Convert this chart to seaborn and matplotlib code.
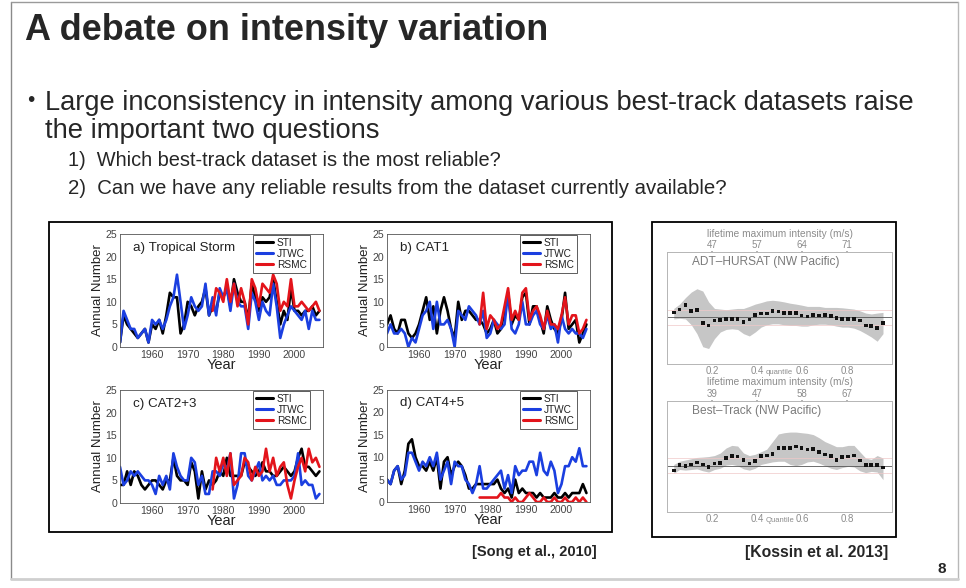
import numpy as np
import pandas as pd
import seaborn as sns
import matplotlib
matplotlib.use("Agg")
import matplotlib.pyplot as plt
from matplotlib.patches import Rectangle
from matplotlib.lines import Line2D

sns.set_theme(style="white")
plt.rcParams["font.family"] = ["Liberation Sans", "DejaVu Sans"]

# ---------------- data: Song et al. (2010) annual numbers ----------------
years = list(range(1951, 2008))
years_rsmc = list(range(1977, 2008))

ts_sti = [1, 7, 5, 4, 3, 2, 3, 4, 1, 5, 4, 6, 3, 7, 12, 11, 11, 3, 5, 10, 9, 7, 9, 10, 13, 7, 9, 8, 12, 11,
          13, 9, 15, 12, 10, 10, 6, 14, 11, 8, 11, 10, 11, 15, 10, 5, 8, 6, 13, 8, 8, 7, 8, 8, 9, 7, 8]
ts_jtwc = [1, 8, 6, 4, 4, 2, 3, 4, 1, 6, 5, 6, 4, 6, 9, 11, 16, 10, 4, 7, 11, 9, 8, 9, 14, 7, 11, 7, 13, 11,
           13, 8, 14, 10, 9, 9, 4, 12, 10, 6, 10, 8, 7, 14, 9, 2, 5, 7, 9, 8, 7, 6, 8, 4, 8, 6, 6]
ts_rsmc = [8, 13, 12, 10, 15, 10, 14, 9, 13, 10, 5, 15, 13, 9, 14, 13, 12, 16, 14, 8, 10, 9, 15, 9, 9, 10,
           9, 8, 9, 10, 8]

c1_sti = [5, 7, 4, 3, 6, 6, 3, 2, 3, 5, 8, 11, 6, 9, 3, 8, 11, 8, 4, 2, 10, 6, 8, 8, 7, 6, 6, 5, 3, 4,
          6, 3, 4, 8, 12, 5, 7, 6, 11, 12, 5, 9, 9, 6, 3, 9, 6, 4, 3, 6, 12, 4, 5, 6, 1, 3, 5]
c1_jtwc = [3, 5, 3, 3, 4, 3, 0, 2, 1, 4, 7, 8, 10, 4, 10, 5, 5, 6, 4, 0, 8, 7, 6, 9, 8, 7, 5, 8, 2, 3,
           6, 5, 4, 5, 12, 4, 3, 5, 10, 5, 5, 7, 8, 5, 4, 7, 4, 5, 1, 7, 4, 3, 4, 3, 3, 2, 4]
c1_rsmc = [5, 12, 4, 7, 6, 4, 5, 9, 13, 6, 8, 6, 12, 13, 6, 8, 9, 7, 4, 8, 5, 5, 4, 7, 11, 5, 7, 7, 3, 4, 6]

c23_sti = [4, 4, 7, 4, 7, 6, 4, 3, 4, 5, 5, 4, 3, 5, 5, 10, 6, 5, 5, 4, 9, 7, 1, 7, 3, 5, 4, 5, 7, 6,
           10, 6, 6, 6, 6, 9, 8, 7, 6, 7, 9, 7, 7, 6, 6, 7, 8, 7, 6, 7, 10, 12, 8, 8, 7, 6, 7]
c23_jtwc = [8, 4, 5, 7, 6, 7, 6, 5, 5, 4, 2, 6, 4, 6, 3, 11, 8, 6, 5, 5, 10, 9, 4, 6, 2, 2, 7, 7, 6, 9,
            7, 11, 1, 4, 11, 11, 6, 5, 7, 9, 5, 6, 5, 6, 4, 4, 5, 5, 5, 6, 11, 4, 5, 4, 4, 1, 2]
c23_rsmc = [3, 10, 7, 10, 6, 11, 4, 5, 6, 10, 9, 5, 8, 6, 7, 12, 7, 10, 6, 8, 9, 4, 1, 5, 8, 10, 7, 12, 9, 10, 8]

c45_sti = [5, 4, 7, 8, 4, 7, 13, 14, 10, 8, 8, 7, 9, 7, 10, 3, 9, 10, 6, 8, 9, 8, 6, 3, 3, 4, 4, 4, 4, 4,
           4, 5, 3, 2, 3, 1, 5, 2, 3, 2, 2, 2, 1, 2, 1, 1, 1, 2, 1, 1, 2, 1, 2, 2, 2, 4, 2]
c45_jtwc = [5, 4, 7, 8, 5, 6, 11, 11, 9, 7, 9, 8, 10, 8, 11, 5, 7, 9, 4, 9, 8, 8, 5, 4, 2, 4, 8, 3, 3, 4,
            5, 6, 7, 3, 6, 2, 8, 6, 7, 7, 9, 9, 6, 11, 7, 6, 9, 7, 2, 4, 8, 8, 10, 9, 12, 8, 8]
c45_rsmc = [1, 1, 1, 1, 1, 1, 2, 1, 1, 0, 1, 0, 0, 1, 2, 1, 0, 0, 1, 0, 0, 1, 0, 0, 1, 0, 0, 1, 0, 1, 0]

panel_titles = ["a) Tropical Storm", "b) CAT1", "c) CAT2+3", "d) CAT4+5"]
dataset_names = ["STI", "JTWC", "RSMC"]
dataset_colors = {"STI": "#000000", "JTWC": "#1b3fe0", "RSMC": "#e3141b"}
year_ticks = [1960, 1970, 1980, 1990, 2000]
count_ticks = [0, 5, 10, 15, 20, 25]

# ---------------- data: Kossin et al. (2013) quantile differences ----------------
quantiles = [0.030, 0.056, 0.082, 0.108, 0.133, 0.159, 0.185, 0.211, 0.237, 0.263, 0.288, 0.314, 0.340,
             0.366, 0.392, 0.418, 0.443, 0.469, 0.495, 0.521, 0.547, 0.573, 0.598, 0.624, 0.650, 0.676,
             0.702, 0.728, 0.753, 0.779, 0.805, 0.831, 0.857, 0.883, 0.908, 0.934, 0.960]
adt_mid = [0.38, 0.60, 0.95, 0.50, 0.56, -0.46, -0.64, -0.26, -0.20, -0.13, -0.13, -0.13, -0.38, -0.18,
           0.18, 0.30, 0.30, 0.50, 0.44, 0.33, 0.33, 0.36, 0.13, 0.05, 0.20, 0.15, 0.18, 0.08, -0.08,
           -0.13, -0.13, -0.13, -0.26, -0.64, -0.69, -0.82, -0.46]
adt_hi = [0.69, 1.03, 1.54, 1.97, 2.23, 2.05, 1.20, 0.69, 0.64, 0.59, 0.64, 0.69, 0.69, 0.85, 1.03, 1.15,
          1.28, 1.33, 1.28, 1.20, 1.10, 1.03, 0.95, 0.85, 0.85, 0.85, 0.77, 0.77, 0.77, 0.74, 0.69, 0.64,
          0.51, 0.33, 0.26, 0.33, 0.38]
adt_lo = [-0.13, -0.08, -0.13, -0.59, -1.28, -2.30, -2.44, -1.67, -1.15, -0.95, -0.90, -0.95, -1.28, -1.46,
          -1.15, -0.77, -0.59, -0.51, -0.51, -0.59, -0.64, -0.64, -0.69, -0.69, -0.59, -0.54, -0.54, -0.59,
          -0.69, -0.77, -0.77, -0.85, -1.03, -1.28, -1.54, -1.87, -1.28]
bt_mid = [-0.38, 0.05, -0.03, 0.10, 0.25, 0.10, -0.08, 0.18, 0.23, 0.63, 0.76, 0.73, 0.43, 0.18, 0.38,
          0.76, 0.81, 0.91, 1.37, 1.37, 1.37, 1.52, 1.39, 1.27, 1.32, 1.06, 0.89, 0.76, 0.43, 0.66, 0.73,
          0.81, 0.41, 0.05, 0.05, 0.05, -0.15]
bt_hi = [0.10, 0.35, 0.45, 0.55, 0.65, 0.68, 0.72, 0.80, 1.00, 1.40, 1.60, 1.55, 1.00, 0.80, 0.90, 1.10,
         1.30, 1.90, 2.50, 2.60, 2.65, 2.65, 2.60, 2.55, 2.45, 2.20, 1.90, 1.70, 1.50, 1.50, 1.60, 1.60,
         1.10, 0.60, 0.50, 0.80, 0.60]
bt_lo = [-0.60, -0.30, -0.35, -0.30, -0.25, -0.40, -0.50, -0.30, -0.20, 0.05, 0.10, 0.00, -0.25, -0.35,
         -0.20, 0.10, 0.20, 0.30, 0.35, 0.35, 0.10, 0.00, 0.10, 0.30, 0.35, 0.20, 0.00, -0.20, -0.30,
         -0.15, -0.05, -0.10, -0.40, -0.55, -0.45, -0.50, -1.10]
quantile_ticks = [0.2, 0.4, 0.6, 0.8]
quantile_tick_labels = ["0.2", "0.4", "0.6", "0.8"]
adt_lmi_labels = ["47", "57", "64", "71"]
bt_lmi_labels = ["39", "47", "58", "67"]

# ---------------- figure ----------------
W, H = 966, 588
fig = plt.figure(figsize=(W / 100, H / 100), dpi=100)
fig.patch.set_facecolor("white")
renderer = fig.canvas.get_renderer()


def fx(x):
    return x / W


def fy(y):
    return 1 - y / H


def px_axes(x0, y0, x1, y1, **kw):
    return fig.add_axes([fx(x0), fy(y1), (x1 - x0) / W, (y1 - y0) / H], **kw)


def fit_text(x0, x1, yc, s, size0=20, **kw):
    t = fig.text(fx(x0), fy(yc), s, fontsize=size0, va="center", ha="left", **kw)
    bb = t.get_window_extent(renderer)
    t.set_fontsize(size0 * (x1 - x0) / bb.width)
    return t


# slide border and picture frames
bg = fig.add_axes([0, 0, 1, 1], zorder=-10)
bg.set_xlim(0, W)
bg.set_ylim(H, 0)
bg.axis("off")
bg.plot([11, 11], [2, 579], color="#8a8a8a", lw=1.0)
bg.plot([11, 958], [2, 2], color="#9a9a9a", lw=1.0)
bg.plot([958, 958], [2, 579], color="#b8b8b8", lw=1.0)
bg.plot([11, 958], [579, 579], color="#cfcfcf", lw=2.0)
bg.add_patch(Rectangle((49, 222), 563, 310, fill=False, ec="black", lw=1.3))
bg.add_patch(Rectangle((652, 222), 244, 315, fill=False, ec="black", lw=1.3))

# slide texts
fit_text(25, 548, 31, "A debate on intensity variation", fontweight="bold")
fig.text(fx(27), fy(101), "•", fontsize=15, va="center", ha="left")
fit_text(45, 912, 103, "Large inconsistency in intensity among various best-track datasets raise")
fit_text(45, 378, 131, "the important two questions")
fit_text(68, 500, 161, "1)  Which best-track dataset is the most reliable?")
fit_text(68, 725, 188, "2)  Can we have any reliable results from the dataset currently available?")
fit_text(472, 597, 552, "[Song et al., 2010]", fontweight="bold")
fit_text(745, 888, 552, "[Kossin et al. 2013]", fontweight="bold")
fig.text(fx(942), fy(569), "8", fontsize=11, fontweight="bold", va="center", ha="center")

# ---------------- Song et al. panels ----------------
panel_series = [
    (ts_sti, ts_jtwc, ts_rsmc),
    (c1_sti, c1_jtwc, c1_rsmc),
    (c23_sti, c23_jtwc, c23_rsmc),
    (c45_sti, c45_jtwc, c45_rsmc),
]
panel_boxes = [(120, 234, 323, 347), (387, 234, 590, 347), (120, 390, 323, 503), (387, 390, 590, 502)]

for title, series, box in zip(panel_titles, panel_series, panel_boxes):
    sti, jtwc, rsmc = series
    df = pd.concat([
        pd.DataFrame({"Year": years, "Annual Number": sti, "Dataset": "STI"}),
        pd.DataFrame({"Year": years, "Annual Number": jtwc, "Dataset": "JTWC"}),
        pd.DataFrame({"Year": years_rsmc, "Annual Number": rsmc, "Dataset": "RSMC"}),
    ], ignore_index=True)
    ax = px_axes(*box)
    sns.lineplot(data=df, x="Year", y="Annual Number", hue="Dataset", hue_order=dataset_names,
                 palette=dataset_colors, estimator=None, lw=1.9, legend=False, ax=ax)
    ax.set_xlim(1951, 2008)
    ax.set_ylim(0, 25)
    ax.set_xticks(year_ticks)
    ax.set_yticks(count_ticks)
    ax.tick_params(axis="both", labelsize=7.6, colors="#333333", direction="in", length=2, pad=2,
                   labelcolor="#444444")
    for s in ax.spines.values():
        s.set_color("#555555")
        s.set_linewidth(0.6)
    ax.set_xlabel("Year", fontsize=10.5, labelpad=-1, color="#222222")
    ax.set_ylabel("Annual Number", fontsize=9.5, labelpad=1, color="#222222")
    ax.text(0.065, 0.88, title, transform=ax.transAxes, fontsize=9.6, ha="left", va="center",
            color="#222222")
    handles = [Line2D([0], [0], color=dataset_colors[n], lw=2.2) for n in dataset_names]
    leg = ax.legend(handles, dataset_names, loc="upper right", bbox_to_anchor=(0.935, 0.995),
                    fontsize=7.3, frameon=True, fancybox=False, edgecolor="#333333",
                    handlelength=1.7, handletextpad=0.35, borderpad=0.3, labelspacing=0.12,
                    borderaxespad=0.0)
    leg.get_frame().set_linewidth(0.7)
    for t in leg.get_texts():
        t.set_color("#222222")

# ---------------- Kossin et al. panels ----------------
kossin = [
    ("ADT\u2013HURSAT (NW Pacific)", adt_mid, adt_hi, adt_lo, adt_lmi_labels,
     (667, 252, 892, 364), "quantile", 239.0, "bottom"),
    ("Best\u2013Track (NW Pacific)", bt_mid, bt_hi, bt_lo, bt_lmi_labels,
     (667, 401, 892, 512), "Quantile", 377.0, "top"),
]
gray_txt = "#8c8c8c"
for label, mid, hi, lo, lmi, box, xlab, title_y, title_va in kossin:
    ax = px_axes(*box)
    ax.fill_between(quantiles, lo, hi, color="#c6c6c6", lw=0, zorder=1)
    ax.axhline(0, color="#555555", lw=0.6, zorder=2)
    ax.axhline(0.6, color="#f0c8c8", lw=0.5, zorder=1.5)
    ax.axhline(-0.6, color="#f0c8c8", lw=0.5, zorder=1.5)
    dfk = pd.DataFrame({"q": quantiles, "d": mid})
    sns.scatterplot(data=dfk, x="q", y="d", marker="s", s=7, color="#111111", edgecolor="none",
                    ax=ax, zorder=3)
    ax.set_xlim(0, 1)
    ax.set_ylim(-3.65, 5.1)
    ax.set_xticks(quantile_ticks)
    ax.set_xticklabels(quantile_tick_labels)
    ax.set_yticks([-3, -2, -1, 0, 1, 2, 3, 4, 5])
    ax.set_yticklabels([])
    ax.tick_params(axis="x", labelsize=7, labelcolor=gray_txt, colors="#aaaaaa", length=1, pad=0.5)
    ax.tick_params(axis="y", colors="#aaaaaa", length=3, direction="out")
    ax.set_xlabel("")
    ax.set_ylabel("")
    ax.text(0.5, -0.075, xlab, transform=ax.transAxes, fontsize=5.5, color=gray_txt,
            ha="center", va="center")
    for s in ax.spines.values():
        s.set_color("#b5b5b5")
        s.set_linewidth(0.7)
    ax.text(0.11, 0.91, label, transform=ax.transAxes, fontsize=8.6, color="#7a7a7a",
            ha="left", va="center")
    sec = ax.secondary_xaxis("top")
    sec.set_xticks(quantile_ticks)
    sec.set_xticklabels(lmi)
    sec.tick_params(labelsize=7, labelcolor=gray_txt, colors="#aaaaaa", length=1, pad=0.5)
    sec.spines["top"].set_visible(False)
    fig.text(fx((box[0] + box[2]) / 2), fy(title_y), "lifetime maximum intensity (m/s)",
             fontsize=7.3, color=gray_txt, ha="center", va=title_va)

fig.savefig("out.png", dpi=100, facecolor="white")
